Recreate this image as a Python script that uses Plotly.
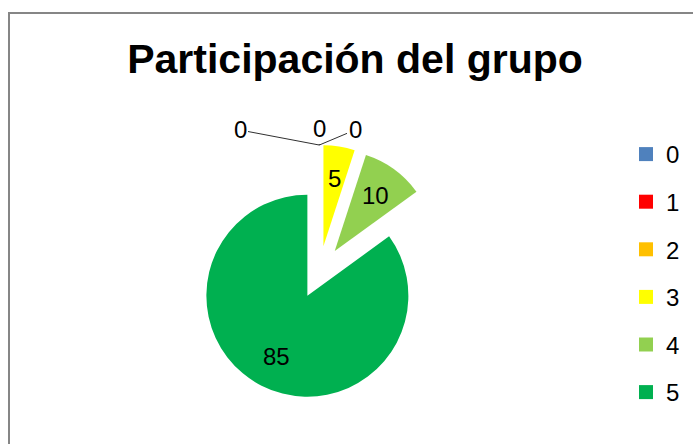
import math
import plotly.graph_objects as go

categories = ["0", "1", "2", "3", "4", "5"]
values = [0, 0, 0, 5, 10, 85]
colors = ["#4F81BD", "#FF0000", "#FFC000", "#FFFF00", "#92D050", "#00B050"]
title_text = "Participación del grupo"

W, H = 693, 444
pull = 0.26
cx, cy, r = 319.3, 272.3, 101.0
half = r * (1 + pull)
FONT = "Liberation Sans"
LBL = 24

fig = go.Figure()
fig.add_trace(go.Pie(
    labels=categories,
    values=values,
    sort=False,
    direction="clockwise",
    rotation=0,
    pull=[pull] * len(values),
    marker=dict(colors=colors, line=dict(width=0)),
    textinfo="none",
    domain=dict(x=[(cx - half) / W, (cx + half) / W],
                y=[1 - (cy + half) / H, 1 - (cy - half) / H]),
    showlegend=False,
    hoverinfo="label+value",
))

for cat, col in zip(categories, colors):
    fig.add_trace(go.Scatter(
        x=[None], y=[None], mode="markers", name=cat, legendgroup=cat,
        marker=dict(symbol="square", size=14, color=col),
        showlegend=True, hoverinfo="skip",
    ))

# data labels, placed along each slice's mid angle (Excel-like "best fit")
annotations = []
total = sum(values)
cum = 0.0
zero_offsets = [(240, 130), (319, 129), (355, 130)]  # label spots for empty slices
zi = 0
for v in values:
    theta = 2 * math.pi * (cum + v / 2) / total
    ux, uy = math.sin(theta), -math.cos(theta)
    vx, vy = cx + pull * r * ux, cy + pull * r * uy
    if v > 0:
        lx, ly = vx + 0.68 * r * ux, vy + 0.68 * r * uy
        annotations.append(dict(x=lx / W, y=1 - ly / H, xref="paper", yref="paper",
                                xanchor="center", yanchor="middle",
                                text=str(v), showarrow=False,
                                font=dict(family=FONT, size=LBL, color="#000000")))
    else:
        tx, ty = vx + r * ux, vy + r * uy
        lx, ly = zero_offsets[zi]
        zi += 1
        annotations.append(dict(x=tx / W, y=1 - ty / H, xref="paper", yref="paper",
                                ax=lx - tx, ay=ly - ty, axref="pixel", ayref="pixel",
                                text=str(v), showarrow=True, arrowhead=0,
                                arrowwidth=1, arrowcolor="#303030", standoff=0,
                                startstandoff=0,
                                font=dict(family=FONT, size=LBL, color="#000000")))
    cum += v

fig.update_layout(
    width=W, height=H,
    margin=dict(l=0, r=0, t=0, b=0),
    paper_bgcolor="white", plot_bgcolor="white",
    title=dict(text="<b>" + title_text + "</b>", x=355 / W, xanchor="center",
               y=1 - 59 / H, yanchor="middle",
               font=dict(family=FONT, size=41, color="#000000")),
    xaxis=dict(visible=False), yaxis=dict(visible=False),
    legend=dict(x=626 / W, xanchor="left", y=1 - 132 / H, yanchor="top",
                traceorder="grouped", tracegroupgap=13.4,
                font=dict(family=FONT, size=LBL, color="#000000"),
                bgcolor="rgba(0,0,0,0)"),
    annotations=annotations,
    shapes=[dict(type="rect", xref="paper", yref="paper",
                 x0=9 / W, x1=1.05, y0=-0.05, y1=1 - 13 / H,
                 line=dict(color="#868686", width=2), fillcolor="rgba(0,0,0,0)")],
)

fig.write_html("out.html", config={"displayModeBar": False},
               post_script="document.body.style.margin='0';")
